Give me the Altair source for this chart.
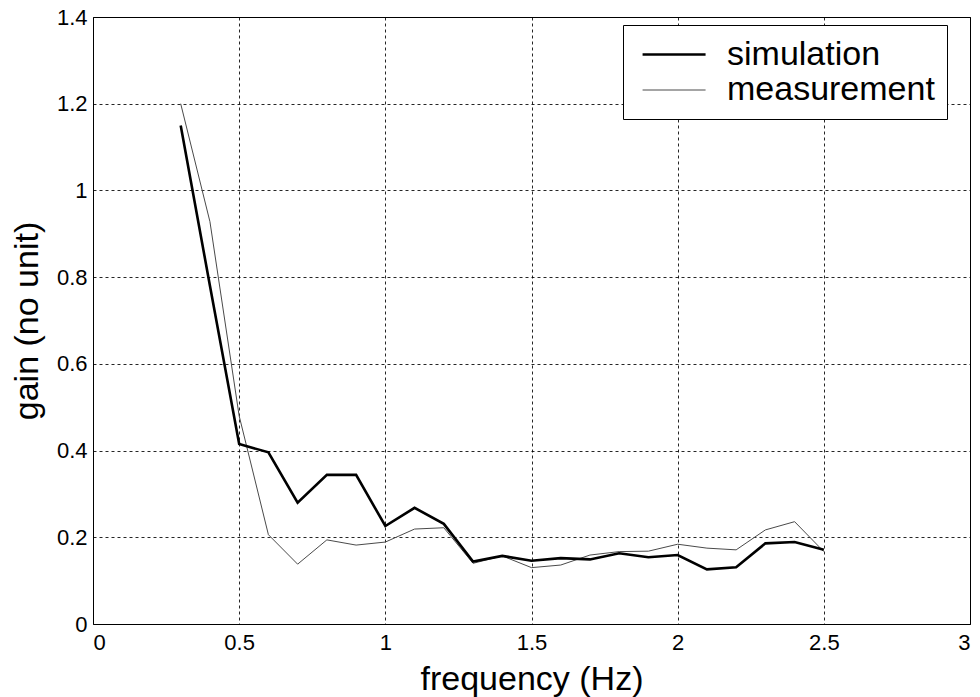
import altair as alt
import pandas as pd

freq = [0.3, 0.4, 0.5, 0.6, 0.7, 0.8, 0.9, 1.0, 1.1, 1.2, 1.3, 1.4, 1.5, 1.6,
        1.7, 1.8, 1.9, 2.0, 2.1, 2.2, 2.3, 2.4, 2.5]
simulation = [1.15, 0.78, 0.415, 0.396, 0.28, 0.344, 0.344, 0.226, 0.268, 0.231,
              0.144, 0.157, 0.146, 0.152, 0.149, 0.163, 0.154, 0.159, 0.126,
              0.131, 0.186, 0.189, 0.171]
measurement = [1.2, 0.928, 0.48, 0.206, 0.138, 0.194, 0.182, 0.189, 0.219, 0.222,
               0.14, 0.157, 0.13, 0.136, 0.159, 0.167, 0.168, 0.184, 0.175,
               0.171, 0.217, 0.236, 0.167]
series_names = ["simulation", "measurement"]
x_ticks = [0, 0.5, 1, 1.5, 2, 2.5, 3]
y_ticks = [0, 0.2, 0.4, 0.6, 0.8, 1.0, 1.2, 1.4]

rows = []
for f, s in zip(freq, simulation):
    rows.append({"freq": f, "gain": s, "series": "simulation"})
for f, m in zip(freq, measurement):
    rows.append({"freq": f, "gain": m, "series": "measurement"})
df = pd.DataFrame(rows)

FONT = "Liberation Sans"

legend = alt.Legend(
    title=None,
    orient="none",
    legendX=530,
    legendY=8,
    direction="vertical",
    symbolType="M-0.63,0H3.37",
    symbolSize=992,
    labelFontSize=34,
    labelFont=FONT,
    labelColor="black",
    labelOffset=57,
    labelLimit=400,
    padding=12,
    rowPadding=1,
    strokeColor="black",
    fillColor="white",
    cornerRadius=0,
)

x_enc = alt.X(
    "freq:Q",
    scale=alt.Scale(domain=[0, 3], nice=False),
    axis=alt.Axis(
        values=x_ticks, format="~g", title="frequency (Hz)",
        grid=True, gridDash=[3, 3], gridColor="black", gridOpacity=0.85,
        ticks=False, domain=False, labelFontSize=22, labelFont=FONT,
        labelColor="black", labelPadding=8, titleFontSize=34, titleFont=FONT,
        titleFontWeight="normal", titleColor="black", titlePadding=9,
    ),
)
y_enc = alt.Y(
    "gain:Q",
    scale=alt.Scale(domain=[0, 1.4], nice=False),
    axis=alt.Axis(
        values=y_ticks, format="~g", title="gain (no unit)",
        grid=True, gridDash=[3, 3], gridColor="black", gridOpacity=0.85,
        ticks=False, domain=False, labelFontSize=22, labelFont=FONT,
        labelColor="black", labelPadding=6, titleFontSize=34, titleFont=FONT,
        titleFontWeight="normal", titleColor="black", titlePadding=12,
    ),
)
color_enc = alt.Color(
    "series:N",
    scale=alt.Scale(domain=series_names, range=["#000000", "#4a4a4a"]),
    legend=legend,
)
width_enc = alt.StrokeWidth(
    "series:N",
    scale=alt.Scale(domain=series_names, range=[2.6, 1.0]),
    legend=legend,
)

base = alt.Chart(df).mark_line().encode(
    x=x_enc, y=y_enc, color=color_enc, strokeWidth=width_enc
)
meas_layer = base.transform_filter(alt.datum.series == "measurement")
sim_layer = base.transform_filter(alt.datum.series == "simulation")

chart = alt.layer(meas_layer, sim_layer).properties(
    width=877,
    height=607,
    autosize=alt.AutoSizeParams(type="none"),
    padding={"left": 93, "top": 17, "right": 10, "bottom": 73},
    background="white",
).configure_view(stroke="black", strokeWidth=1)

chart.save("out.html", embed_options={"renderer": "svg", "actions": False})
